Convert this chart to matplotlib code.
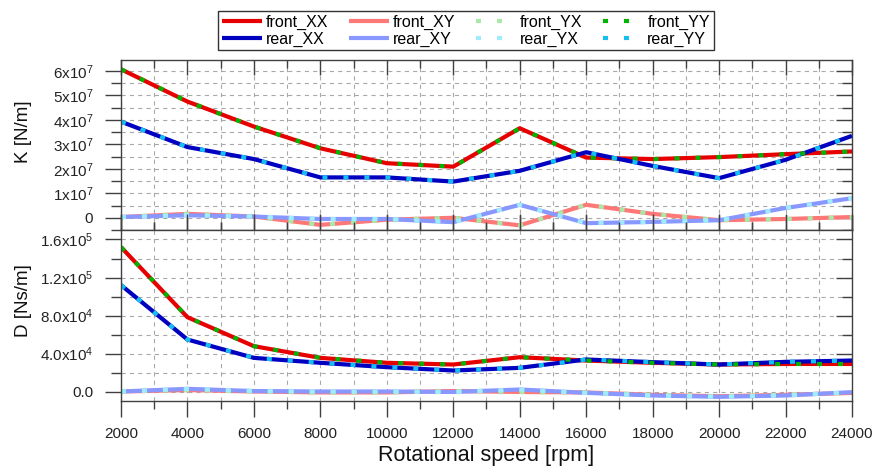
import matplotlib
matplotlib.use("Agg")
import matplotlib.pyplot as plt
from matplotlib.ticker import MultipleLocator

plt.rcParams["font.family"] = ["Liberation Sans", "DejaVu Sans"]
plt.rcParams["mathtext.fontset"] = "custom"
plt.rcParams["mathtext.rm"] = "Liberation Sans"
plt.rcParams["mathtext.it"] = "Liberation Sans:italic"
plt.rcParams["lines.scale_dashes"] = False

# data
rpm = [2000, 4000, 6000, 8000, 10000, 12000, 14000, 16000, 18000, 20000, 22000, 24000]

# stiffness K [N/m]
k_front_xx = [6.07e7, 4.75e7, 3.73e7, 2.84e7, 2.23e7, 2.09e7, 3.66e7, 2.46e7, 2.40e7, 2.48e7, 2.60e7, 2.71e7]
k_rear_xx = [3.93e7, 2.89e7, 2.40e7, 1.65e7, 1.65e7, 1.48e7, 1.92e7, 2.68e7, 2.12e7, 1.62e7, 2.37e7, 3.35e7]
k_front_xy = [0.03e7, 0.16e7, 0.05e7, -0.29e7, -0.08e7, 0.0, -0.31e7, 0.53e7, 0.16e7, -0.10e7, -0.05e7, 0.03e7]
k_rear_xy = [0.03e7, 0.10e7, 0.05e7, -0.05e7, -0.05e7, -0.18e7, 0.53e7, -0.22e7, -0.17e7, -0.10e7, 0.40e7, 0.80e7]
k_front_yx = [0.03e7, 0.16e7, 0.05e7, -0.29e7, -0.08e7, 0.0, -0.31e7, 0.53e7, 0.16e7, -0.10e7, -0.05e7, 0.03e7]
k_rear_yx = [0.03e7, 0.10e7, 0.05e7, -0.05e7, -0.05e7, -0.18e7, 0.53e7, -0.22e7, -0.17e7, -0.10e7, 0.40e7, 0.80e7]
k_front_yy = [6.07e7, 4.75e7, 3.73e7, 2.84e7, 2.23e7, 2.09e7, 3.66e7, 2.46e7, 2.40e7, 2.48e7, 2.60e7, 2.71e7]
k_rear_yy = [3.93e7, 2.89e7, 2.40e7, 1.65e7, 1.65e7, 1.48e7, 1.92e7, 2.68e7, 2.12e7, 1.62e7, 2.37e7, 3.35e7]

# damping D [Ns/m]
d_front_xx = [15.2e4, 7.82e4, 4.77e4, 3.54e4, 3.02e4, 2.84e4, 3.61e4, 3.26e4, 3.02e4, 2.84e4, 2.90e4, 2.90e4]
d_rear_xx = [11.2e4, 5.47e4, 3.54e4, 3.02e4, 2.56e4, 2.21e4, 2.49e4, 3.37e4, 3.09e4, 2.84e4, 3.12e4, 3.26e4]
d_front_xy = [0.0, 0.15e4, 0.0, -0.10e4, -0.10e4, 0.05e4, -0.05e4, -0.10e4, -0.35e4, -0.50e4, -0.35e4, -0.15e4]
d_rear_xy = [0.0, 0.28e4, 0.05e4, 0.0, 0.0, -0.05e4, 0.21e4, -0.14e4, -0.42e4, -0.56e4, -0.42e4, -0.07e4]
d_front_yx = [0.0, 0.15e4, 0.0, -0.10e4, -0.10e4, 0.05e4, -0.05e4, -0.10e4, -0.35e4, -0.50e4, -0.35e4, -0.15e4]
d_rear_yx = [0.0, 0.28e4, 0.05e4, 0.0, 0.0, -0.05e4, 0.21e4, -0.14e4, -0.42e4, -0.56e4, -0.42e4, -0.07e4]
d_front_yy = [15.2e4, 7.82e4, 4.77e4, 3.54e4, 3.02e4, 2.84e4, 3.61e4, 3.26e4, 3.02e4, 2.84e4, 2.90e4, 2.90e4]
d_rear_yy = [11.2e4, 5.47e4, 3.54e4, 3.02e4, 2.56e4, 2.21e4, 2.49e4, 3.37e4, 3.09e4, 2.84e4, 3.12e4, 3.26e4]

k_ticks = [0, 1e7, 2e7, 3e7, 4e7, 5e7, 6e7]
k_labels = ["0", r"1x$10^{7}$", r"2x$10^{7}$", r"3x$10^{7}$", r"4x$10^{7}$", r"5x$10^{7}$", r"6x$10^{7}$"]
d_ticks = [0, 4e4, 8e4, 1.2e5, 1.6e5]
d_labels = ["0.0", r"4.0x$10^{4}$", r"8.0x$10^{4}$", r"1.2x$10^{5}$", r"1.6x$10^{5}$"]
x_ticks = list(range(2000, 24001, 2000))

LW = 3.0
DASH = (3.6, 11.5)
styles = [
    ("front_XX", "#e60000", None),
    ("rear_XX", "#0000c0", None),
    ("front_XY", "#ff7878", None),
    ("rear_XY", "#8898ff", None),
    ("front_YX", "#a8e8a8", DASH),
    ("rear_YX", "#a0ecff", DASH),
    ("front_YY", "#00b400", DASH),
    ("rear_YY", "#14c0f0", DASH),
]
k_series = [k_front_xx, k_rear_xx, k_front_xy, k_rear_xy, k_front_yx, k_rear_yx, k_front_yy, k_rear_yy]
d_series = [d_front_xx, d_rear_xx, d_front_xy, d_rear_xy, d_front_yx, d_rear_yx, d_front_yy, d_rear_yy]

W, H = 877, 475
fig = plt.figure(figsize=(W / 100, H / 100), dpi=100)
ax1 = fig.add_axes([121 / W, (H - 230) / H, 731 / W, 170 / H])
ax2 = fig.add_axes([121 / W, (H - 401) / H, 731 / W, 171 / H])

handles = []
for ax, series in ((ax1, k_series), (ax2, d_series)):
    hs = []
    for (name, color, dash), vals in zip(styles, series):
        kw = dict(color=color, lw=LW, label=name, solid_capstyle="butt", dash_capstyle="butt")
        if dash:
            kw["dashes"] = dash
        (ln,) = ax.plot(rpm, vals, **kw)
        hs.append(ln)
    handles = hs

for ax in (ax1, ax2):
    ax.set_xlim(2000, 24000)
    ax.xaxis.set_major_locator(MultipleLocator(2000))
    ax.xaxis.set_minor_locator(MultipleLocator(1000))
    ax.grid(True, which="both", color="#a8a8a8", linestyle=(0, (3, 3)), linewidth=0.8)
    ax.set_axisbelow(True)
    for s in ax.spines.values():
        s.set_color("#404040")
        s.set_linewidth(1.0)
    ax.tick_params(which="both", colors="#404040", labelcolor="#222222", labelsize=11, width=1.0)
    ax.tick_params(axis="y", which="major", direction="out", length=11.5, pad=8.5, right=True)
    ax.tick_params(axis="y", which="minor", direction="out", length=7, right=True)

# top panel
ax1.set_ylim(-0.5e7, 6.45e7)
ax1.set_yticks(k_ticks, k_labels)
ax1.yaxis.set_minor_locator(MultipleLocator(0.5e7))
ax1.tick_params(axis="x", which="both", top=True, bottom=True, direction="in", labelbottom=False)
ax1.tick_params(axis="x", which="major", length=11)
ax1.tick_params(axis="x", which="minor", length=6)
ax1.set_ylabel("K [N/m]", fontsize=13.5, color="#111111")
ax1.yaxis.set_label_coords(-0.122, 0.576)

# bottom panel
ax2.set_ylim(-1e4, 1.7e5)
ax2.set_yticks(d_ticks, d_labels)
ax2.yaxis.set_minor_locator(MultipleLocator(2e4))
ax2.set_xticks(x_ticks, [str(v) for v in x_ticks])
ax2.tick_params(axis="x", which="both", top=True, bottom=True, direction="out", pad=7)
ax2.tick_params(axis="x", which="major", length=11.5)
ax2.tick_params(axis="x", which="minor", length=6)
ax2.set_ylabel("D [Ns/m]", fontsize=13.5, color="#111111")
ax2.yaxis.set_label_coords(-0.122, 0.585)
ax2.set_xlabel("Rotational speed [rpm]", fontsize=15.5, color="#111111")
ax2.xaxis.set_label_coords(0.5, -0.26)

# right-hand y ticks point inwards
for ax in (ax1, ax2):
    for t in ax.yaxis.get_major_ticks() + ax.yaxis.get_minor_ticks():
        t.tick2line.set_marker(matplotlib.lines.TICKLEFT)

leg = fig.legend(handles, [h.get_label() for h in handles], loc="upper center",
                 bbox_to_anchor=(466 / W, 1 - 11 / H), ncol=4, fontsize=11.5,
                 frameon=True, fancybox=False, framealpha=1, edgecolor="#333333",
                 handlelength=2.5, handletextpad=0.25, columnspacing=1.3,
                 labelspacing=0.12, borderpad=0.22, borderaxespad=0)
leg.get_frame().set_linewidth(1.0)

fig.savefig("out.png", dpi=100)
